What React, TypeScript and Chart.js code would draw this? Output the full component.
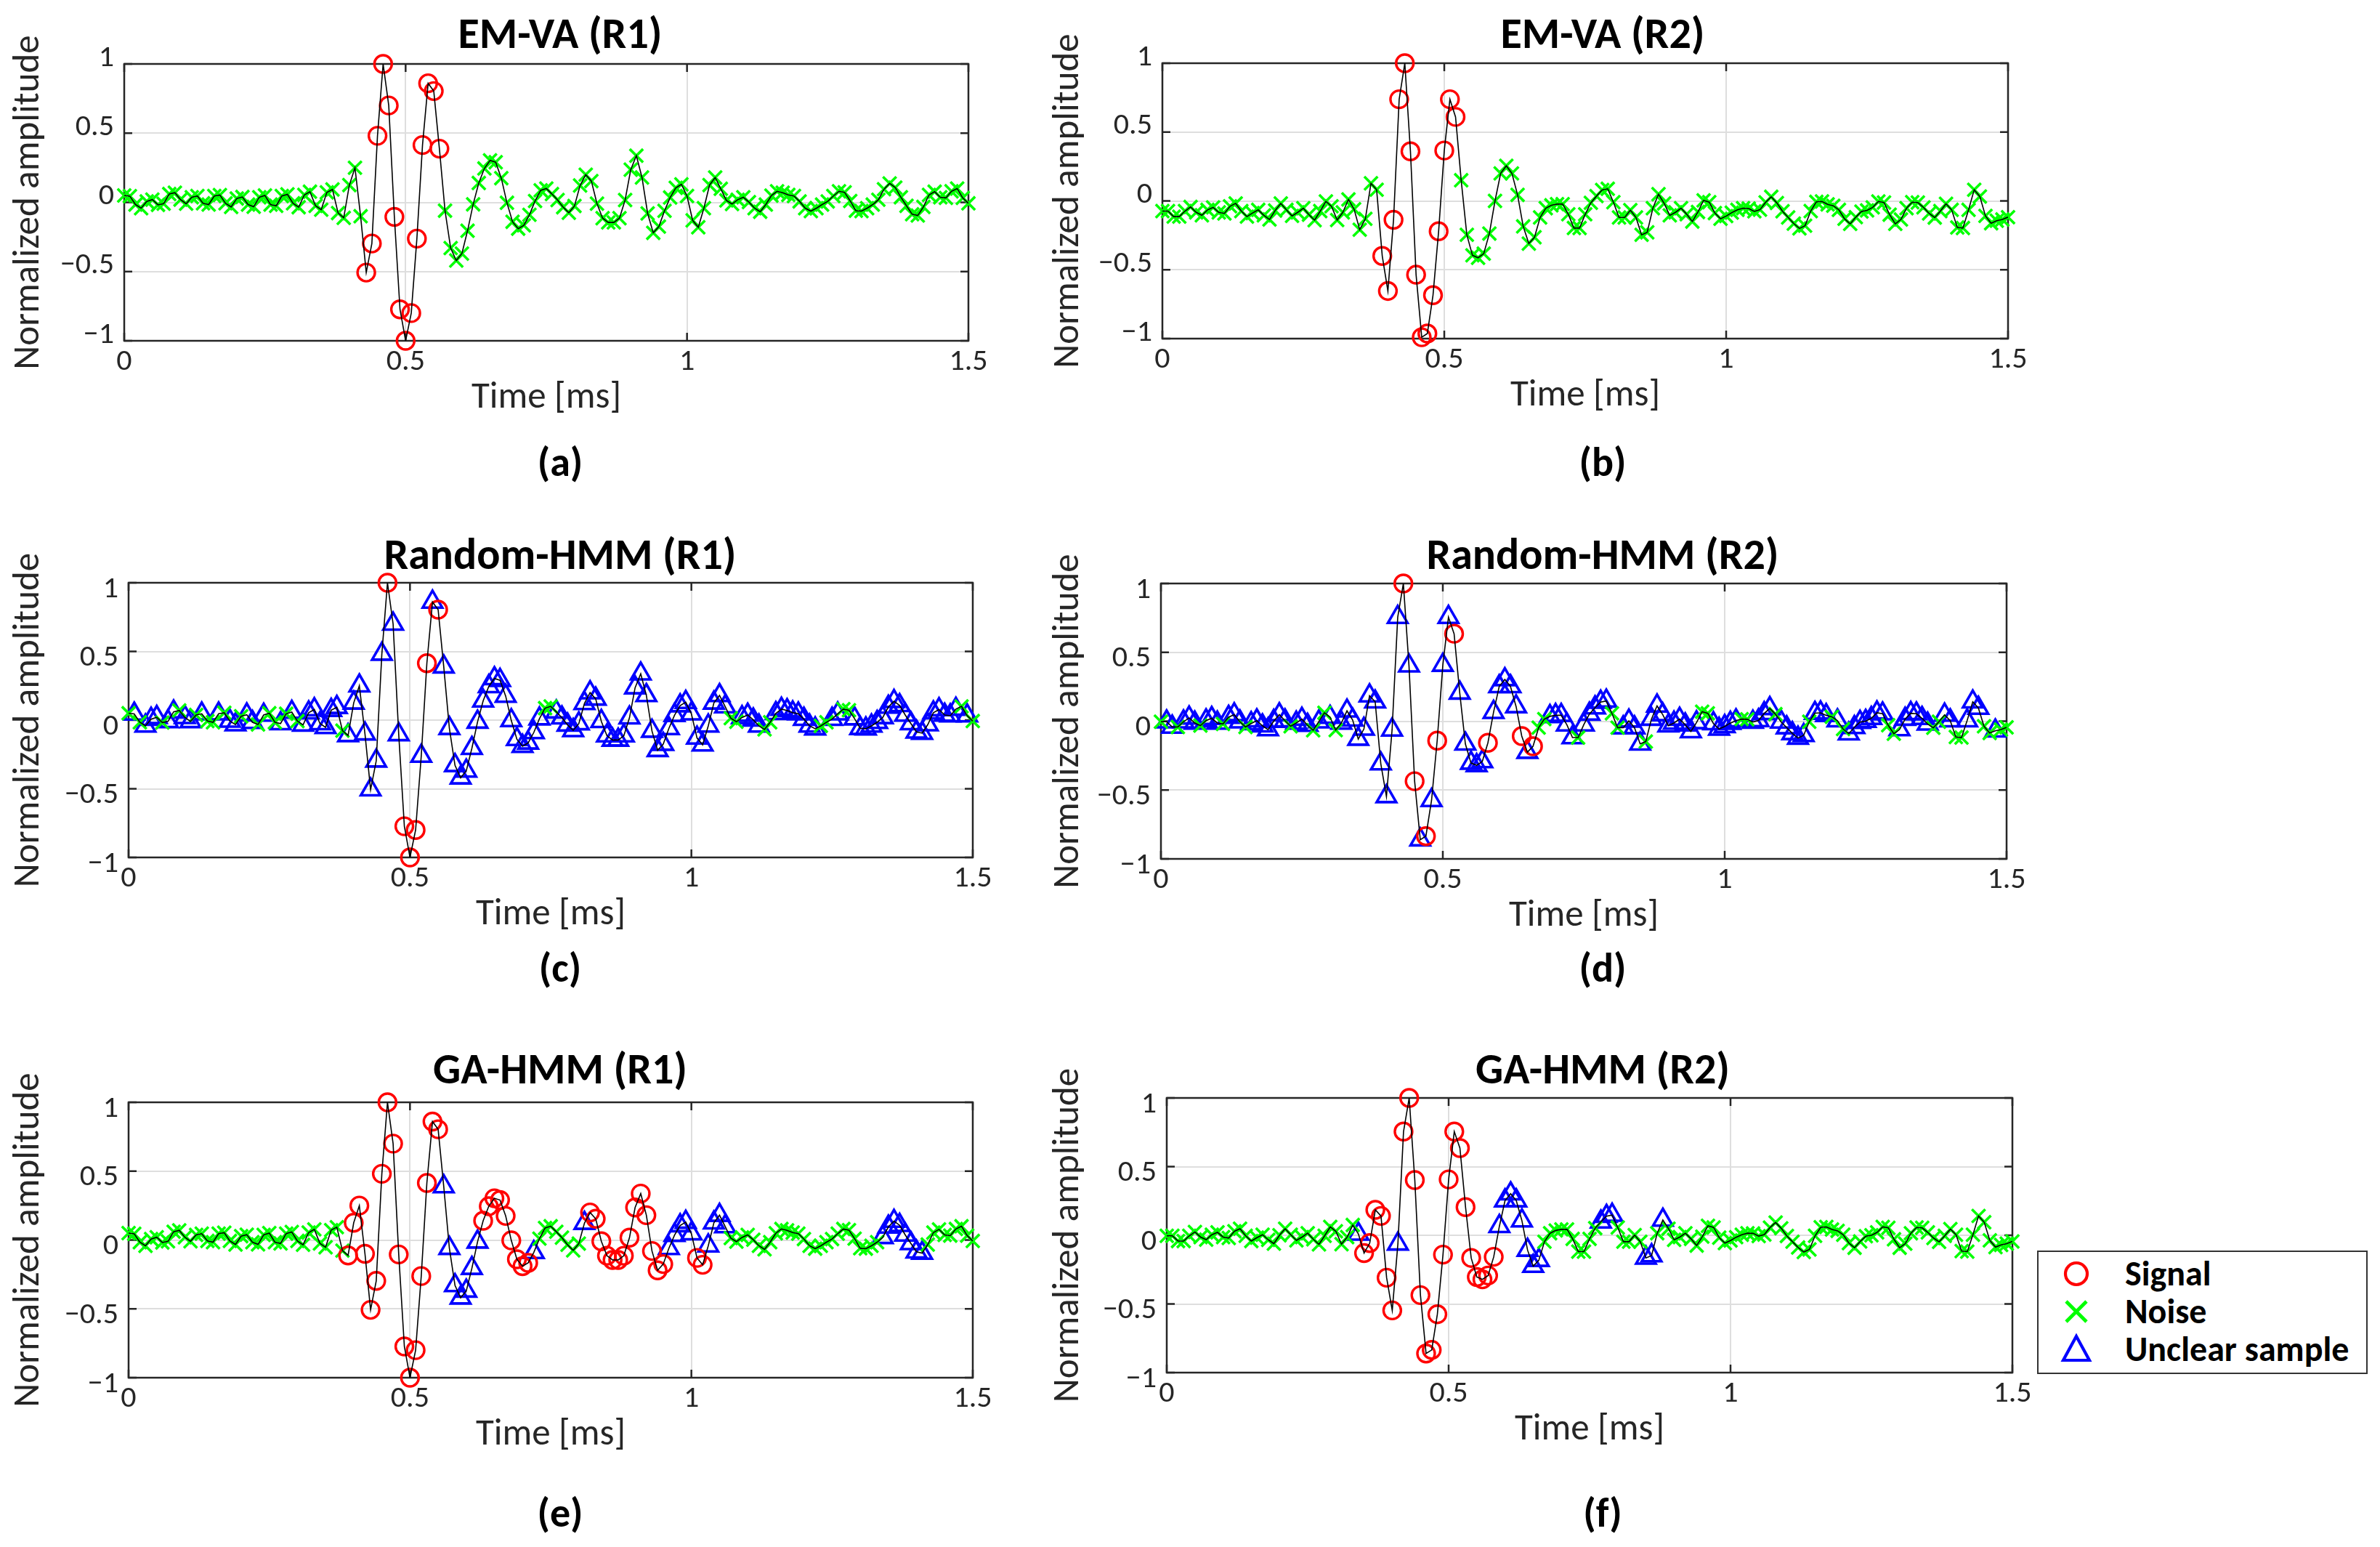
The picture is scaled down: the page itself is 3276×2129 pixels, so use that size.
import { useEffect, useRef } from "react";
import Chart from "chart.js/auto";

// one sample every 0.01 ms, 151 samples from 0 to 1.5 ms
const SAMPLE_MS = 0.01;
const X_TICKS = [0, 0.5, 1, 1.5];
const Y_TICKS = [-1, -0.5, 0, 0.5, 1];

// recording R1 (panels a, c, e)
const R1 = [
  0.05, 0.045, -0.016, -0.042, 0.007, 0.02, -0.018, -0.01, 0.06, 0.07,
  0.02, -0.01, 0.037, 0.046, -0.007, -0.016, 0.046, 0.053, -0.007, -0.033,
  0.028, 0.039, -0.016, -0.032, 0.037, 0.05, -0.016, -0.025, 0.046, 0.058,
  -0.007, -0.035, 0.054, 0.077, -0.025, -0.053, 0.072, 0.093, -0.077, -0.112,
  0.125, 0.25, -0.1, -0.507, -0.297, 0.481, 1.0, 0.7, -0.105, -0.773,
  -1.0, -0.8, -0.262, 0.414, 0.86, 0.804, 0.388, -0.06, -0.33, -0.42,
  -0.37, -0.205, -0.014, 0.14, 0.245, 0.303, 0.29, 0.175, -0.003, -0.14,
  -0.19, -0.166, -0.09, 0.01, 0.087, 0.1, 0.06, 0.017, -0.035, -0.075,
  -0.026, 0.122, 0.2, 0.154, -0.009, -0.114, -0.145, -0.145, -0.114, 0.017,
  0.236, 0.337, 0.18, -0.08, -0.22, -0.175, -0.061, 0.035, 0.105, 0.13,
  0.046, -0.13, -0.18, -0.042, 0.125, 0.18, 0.098, 0.014, -0.012, 0.019,
  0.037, 0.002, -0.042, -0.068, -0.016, 0.049, 0.08, 0.07, 0.054, 0.046,
  0.007, -0.042, -0.063, -0.042, -0.016, 0.007, 0.046, 0.08, 0.072, 0.01,
  -0.06, -0.063, -0.042, -0.016, 0.019, 0.095, 0.137, 0.107, 0.037, -0.025,
  -0.086, -0.095, -0.033, 0.054, 0.077, 0.037, 0.032, 0.08, 0.1, 0.032,
  -0.007,
];

// recording R2 as plotted in (b)
const R2 = [
  -0.074, -0.074, -0.114, -0.114, -0.074, -0.044, -0.083, -0.104, -0.065, -0.047,
  -0.083, -0.091, -0.039, -0.018, -0.074, -0.114, -0.088, -0.065, -0.105, -0.135,
  -0.07, -0.018, -0.065, -0.109, -0.083, -0.053, -0.1, -0.14, -0.074, -0.004,
  -0.039, -0.139, -0.083, 0.011, -0.06, -0.209, -0.13, 0.128, 0.081, -0.4,
  -0.654, -0.137, 0.738, 1.0, 0.36, -0.536, -0.99, -0.963, -0.685, -0.22,
  0.366, 0.738, 0.61, 0.15, -0.246, -0.395, -0.413, -0.383, -0.237, 0.0,
  0.2, 0.255, 0.2, 0.044, -0.185, -0.31, -0.264, -0.12, -0.053, -0.032,
  -0.023, -0.023, -0.097, -0.197, -0.197, -0.097, -0.014, 0.035, 0.079, 0.088,
  -0.009, -0.12, -0.12, -0.067, -0.12, -0.246, -0.228, -0.053, 0.049, -0.018,
  -0.105, -0.083, -0.053, -0.097, -0.15, -0.08, 0.004, -0.009, -0.088, -0.13,
  -0.11, -0.085, -0.065, -0.053, -0.055, -0.076, -0.064, -0.01, 0.03, -0.015,
  -0.075, -0.12, -0.165, -0.2, -0.18, -0.074, -0.007, -0.004, -0.025, -0.035,
  -0.065, -0.13, -0.167, -0.118, -0.077, -0.069, -0.047, -0.004, -0.012, -0.1,
  -0.167, -0.135, -0.053, -0.009, -0.012, -0.047, -0.091, -0.121, -0.074, -0.021,
  -0.065, -0.193, -0.197, -0.065, 0.081, 0.032, -0.109, -0.162, -0.144, -0.135,
  -0.118,
];

// recording R2 without its offset, as plotted in (d) and (f)
const R2_CENTERED = [
  -0.004, -0.004, -0.042, -0.042, -0.004, 0.024, -0.013, -0.032, 0.004, 0.021,
  -0.013, -0.02, 0.029, 0.048, -0.004, -0.042, -0.017, 0.004, -0.033, -0.061,
  0.0, 0.048, 0.004, -0.037, -0.013, 0.015, -0.029, -0.066, -0.004, 0.061,
  0.029, -0.065, -0.013, 0.075, 0.009, -0.13, -0.057, 0.185, 0.141, -0.309,
  -0.547, -0.063, 0.755, 1.0, 0.402, -0.436, -0.861, -0.835, -0.575, -0.141,
  0.407, 0.755, 0.635, 0.205, -0.165, -0.304, -0.321, -0.293, -0.157, 0.065,
  0.252, 0.303, 0.252, 0.106, -0.108, -0.225, -0.182, -0.047, 0.015, 0.035,
  0.043, 0.043, -0.026, -0.119, -0.119, -0.026, 0.052, 0.098, 0.139, 0.147,
  0.057, -0.047, -0.047, 0.002, -0.047, -0.165, -0.148, 0.015, 0.111, 0.048,
  -0.033, -0.013, 0.015, -0.026, -0.075, -0.01, 0.069, 0.057, -0.017, -0.057,
  -0.038, -0.014, 0.004, 0.015, 0.014, -0.006, 0.005, 0.056, 0.093, 0.051,
  -0.005, -0.047, -0.089, -0.122, -0.103, -0.004, 0.058, 0.061, 0.042, 0.032,
  0.004, -0.057, -0.091, -0.045, -0.007, 0.0, 0.021, 0.061, 0.054, -0.029,
  -0.091, -0.061, 0.015, 0.057, 0.054, 0.021, -0.02, -0.048, -0.004, 0.045,
  0.004, -0.115, -0.119, 0.004, 0.141, 0.095, -0.037, -0.086, -0.07, -0.061,
  -0.045,
];

// sample classes: S = signal, N = noise, U = unclear sample
type Label = "S" | "N" | "U";
type Run = [Label, number, number]; // [class, first sample, last sample]

const LABELS_A: Run[] = [["S", 43, 56]];
const LABELS_B: Run[] = [["S", 39, 52]];
const LABELS_C: Run[] = [
  ["N", 0, 0], ["N", 2, 2], ["N", 6, 6], ["N", 9, 9], ["N", 12, 12], ["N", 14, 15],
  ["N", 17, 17], ["N", 20, 20], ["N", 23, 23], ["N", 25, 26], ["N", 28, 28],
  ["N", 30, 30], ["N", 38, 38], ["S", 46, 46], ["S", 49, 51], ["S", 53, 53],
  ["S", 55, 55], ["N", 74, 75], ["N", 107, 108], ["N", 113, 114], ["N", 123, 124],
  ["N", 127, 128], ["N", 148, 148], ["N", 150, 150],
];
const LABELS_D: Run[] = [
  ["N", 0, 0], ["N", 3, 3], ["N", 7, 7], ["N", 11, 11], ["N", 15, 15], ["N", 23, 23],
  ["N", 27, 27], ["N", 29, 29], ["N", 31, 31], ["S", 43, 43], ["S", 45, 45],
  ["S", 47, 47], ["S", 49, 49], ["S", 52, 52], ["S", 58, 58], ["S", 64, 64],
  ["S", 66, 66], ["N", 67, 68], ["N", 74, 74], ["N", 80, 81], ["N", 86, 86],
  ["N", 96, 97], ["N", 103, 104], ["N", 109, 109], ["N", 115, 115], ["N", 119, 119],
  ["N", 121, 121], ["N", 129, 130], ["N", 137, 138], ["N", 141, 142],
  ["N", 146, 147], ["N", 149, 150],
];
const LABELS_E: Run[] = [
  ["S", 39, 55], ["U", 56, 62], ["S", 63, 71], ["U", 72, 72], ["U", 81, 81],
  ["S", 82, 95], ["U", 96, 100], ["S", 101, 102], ["U", 103, 106], ["U", 134, 141],
];
const LABELS_F: Run[] = [
  ["U", 34, 34], ["S", 35, 40], ["U", 41, 41], ["S", 42, 58], ["U", 59, 66],
  ["U", 77, 79], ["U", 85, 86], ["U", 88, 88],
];

type PanelSpec = {
  id: string;
  title: string;
  wave: number[];
  base: Label;
  runs: Run[];
};

const PANELS: PanelSpec[] = [
  { id: "a", title: "EM-VA (R1)", wave: R1, base: "N", runs: LABELS_A },
  { id: "b", title: "EM-VA (R2)", wave: R2, base: "N", runs: LABELS_B },
  { id: "c", title: "Random-HMM (R1)", wave: R1, base: "U", runs: LABELS_C },
  { id: "d", title: "Random-HMM (R2)", wave: R2_CENTERED, base: "U", runs: LABELS_D },
  { id: "e", title: "GA-HMM (R1)", wave: R1, base: "N", runs: LABELS_E },
  { id: "f", title: "GA-HMM (R2)", wave: R2_CENTERED, base: "N", runs: LABELS_F },
];

// page layout (pixels)
const PLOT_BOX: Record<string, { l: number; t: number; w: number; h: number }> = {
  a: { l: 171, t: 88, w: 1162, h: 381 },
  b: { l: 1600, t: 87, w: 1164, h: 379 },
  c: { l: 177, t: 802, w: 1162, h: 378 },
  d: { l: 1598, t: 803, w: 1164, h: 379 },
  e: { l: 177, t: 1517, w: 1162, h: 379 },
  f: { l: 1606, t: 1511, w: 1164, h: 378 },
};
// vertical nudge of the y tick labels relative to their grid lines
const Y_LABEL_SHIFT: Record<string, number> = { a: -8, b: -8, c: 9, d: 9, e: 9, f: 9 };
const CANVAS_LEFT = [6, 1437];
const TEXT_CX = [771, 2206];
const TITLE_CY = [46, 763, 1471];
const LETTER_CY = [637, 1333, 2083];
const PAD_TOP = 80;
const PAD_RIGHT = 50;
const X_AXIS_H = 118;

const FONT = "Carlito, Lato, 'Open Sans', sans-serif";
const AXIS_COLOR = "#262626";
const GRID_COLOR = "#dedede";
const COLORS = { S: "#ff0000", N: "#00ff00", U: "#0000ff" };

Chart.defaults.font.family = FONT;

const fmtTick = (v: number) => {
  const r = Math.round(v * 100) / 100;
  if (r === 0) return "0";
  return (r < 0 ? "\u2212" : "") + String(Math.abs(r));
};

function expandLabels(base: Label, runs: Run[], n: number): Label[] {
  const out: Label[] = new Array(n).fill(base);
  runs.forEach(([lab, a, b]) => {
    for (let i = a; i <= b; i++) out[i] = lab;
  });
  return out;
}

// axes box with MATLAB-style inner tick marks
const axesBox = {
  id: "axesBox",
  beforeDatasetsDraw(chart: any) {
    const { ctx, chartArea, scales } = chart;
    const { left, right, top, bottom } = chartArea;
    const tl = 11;
    ctx.save();
    ctx.strokeStyle = AXIS_COLOR;
    ctx.lineWidth = 2.5;
    ctx.strokeRect(left, top, right - left, bottom - top);
    ctx.beginPath();
    X_TICKS.forEach(v => {
      const px = scales.x.getPixelForValue(v);
      ctx.moveTo(px, bottom);
      ctx.lineTo(px, bottom - tl);
      ctx.moveTo(px, top);
      ctx.lineTo(px, top + tl);
    });
    Y_TICKS.forEach(v => {
      const py = scales.y.getPixelForValue(v);
      ctx.moveTo(left, py);
      ctx.lineTo(left + tl, py);
      ctx.moveTo(right, py);
      ctx.lineTo(right - tl, py);
    });
    ctx.stroke();
    ctx.restore();
  },
};

function Panel({ spec, col }: { spec: PanelSpec; col: number }) {
  const canvasRef = useRef<HTMLCanvasElement | null>(null);
  const box = PLOT_BOX[spec.id];
  const left = CANVAS_LEFT[col];
  const yAxisW = box.l - left;
  const width = yAxisW + box.w + PAD_RIGHT;
  const height = PAD_TOP + box.h + X_AXIS_H;

  useEffect(() => {
    if (!canvasRef.current) return;
    const pts = spec.wave.map((y, i) => ({ x: Math.round(i * SAMPLE_MS * 100) / 100, y }));
    const labels = expandLabels(spec.base, spec.runs, pts.length);
    const pick = (lab: Label) => pts.filter((_, i) => labels[i] === lab);

    const chart = new Chart(canvasRef.current, {
      type: "line",
      data: {
        datasets: [
          {
            label: "waveform",
            data: pts,
            borderColor: "#000000",
            borderWidth: 1.6,
            pointRadius: 0,
            tension: 0,
          },
          {
            label: "Signal",
            data: pick("S"),
            showLine: false,
            pointStyle: "circle",
            pointRadius: 12,
            pointBorderWidth: 3.4,
            pointBorderColor: COLORS.S,
            pointBackgroundColor: "rgba(0,0,0,0)",
            clip: false,
          },
          {
            label: "Noise",
            data: pick("N"),
            showLine: false,
            pointStyle: "crossRot",
            pointRadius: 13,
            pointBorderWidth: 3.6,
            pointBorderColor: COLORS.N,
            pointBackgroundColor: COLORS.N,
            clip: false,
          },
          {
            label: "Unclear sample",
            data: pick("U"),
            showLine: false,
            pointStyle: "triangle",
            pointRadius: 15.5,
            pointBorderWidth: 3.6,
            pointBorderColor: COLORS.U,
            pointBackgroundColor: "rgba(0,0,0,0)",
            clip: false,
          },
        ],
      } as any,
      options: {
        animation: false,
        responsive: false,
        events: [],
        layout: { padding: { top: PAD_TOP, right: PAD_RIGHT, left: 0, bottom: 0 } },
        plugins: {
          legend: { display: false },
          tooltip: { enabled: false },
          title: { display: false },
        },
        scales: {
          x: {
            type: "linear",
            min: 0,
            max: 1.5,
            afterBuildTicks: (s: any) => {
              s.ticks = X_TICKS.map(value => ({ value }));
            },
            afterFit: (s: any) => {
              s.height = X_AXIS_H;
            },
            ticks: {
              callback: (v: any) => fmtTick(Number(v)),
              color: AXIS_COLOR,
              font: { size: 42 },
              padding: 4,
              maxRotation: 0,
            },
            grid: { color: GRID_COLOR, lineWidth: 2, drawTicks: false },
            border: { display: false },
            title: {
              display: true,
              text: "Time [ms]",
              color: AXIS_COLOR,
              font: { size: 51 },
              padding: { top: 0, bottom: 8 },
            },
          },
          y: {
            type: "linear",
            min: -1,
            max: 1,
            afterBuildTicks: (s: any) => {
              s.ticks = Y_TICKS.map(value => ({ value }));
            },
            afterFit: (s: any) => {
              s.width = yAxisW;
            },
            ticks: {
              callback: (v: any) => fmtTick(Number(v)),
              color: AXIS_COLOR,
              font: { size: 42 },
              padding: 14,
              labelOffset: Y_LABEL_SHIFT[spec.id],
            },
            grid: { color: GRID_COLOR, lineWidth: 2, drawTicks: false },
            border: { display: false },
            title: {
              display: true,
              text: "Normalized amplitude",
              color: AXIS_COLOR,
              font: { size: 51 },
              padding: { top: 4, bottom: 0 },
            },
          },
        },
      } as any,
      plugins: [axesBox],
    });
    return () => chart.destroy();
  }, [spec, yAxisW]);

  return (
    <canvas
      ref={canvasRef}
      width={width}
      height={height}
      style={{ position: "absolute", left, top: box.t - PAD_TOP }}
    />
  );
}

function CenteredText({ cx, cy, size, text }: { cx: number; cy: number; size: number; text: string }) {
  return (
    <div
      style={{
        position: "absolute",
        left: cx - 500,
        top: cy - size * 0.6,
        width: 1000,
        height: size * 1.2,
        lineHeight: `${size * 1.2}px`,
        textAlign: "center",
        fontFamily: FONT,
        fontWeight: 700,
        fontSize: size,
        color: "#000",
        whiteSpace: "nowrap",
      }}
    >
      {text}
    </div>
  );
}

const LEGEND_ITEMS: { label: string; cls: Label }[] = [
  { label: "Signal", cls: "S" },
  { label: "Noise", cls: "N" },
  { label: "Unclear sample", cls: "U" },
];

function LegendIcon({ cls }: { cls: Label }) {
  const c = COLORS[cls];
  return (
    <svg width={46} height={46} viewBox="0 0 46 46">
      {cls === "S" && <circle cx={23} cy={23} r={15} fill="none" stroke={c} strokeWidth={4.2} />}
      {cls === "N" && (
        <path d="M9 9 L37 37 M37 9 L9 37" stroke={c} strokeWidth={4.8} fill="none" />
      )}
      {cls === "U" && <path d="M23 5 L41 38 L5 38 Z" stroke={c} strokeWidth={4.2} fill="none" />}
    </svg>
  );
}

function Legend() {
  return (
    <div
      style={{
        position: "absolute",
        left: 2804,
        top: 1721,
        width: 455,
        height: 170,
        boxSizing: "border-box",
        border: "2px solid #333",
        background: "#fff",
      }}
    >
      {LEGEND_ITEMS.map((item, k) => (
        <div key={item.label}>
          <div style={{ position: "absolute", left: 29, top: 30 + k * 52 - 23 }}>
            <LegendIcon cls={item.cls} />
          </div>
          <div
            style={{
              position: "absolute",
              left: 119,
              top: 30 + k * 52 - 26,
              height: 52,
              lineHeight: "52px",
              fontFamily: FONT,
              fontWeight: 700,
              fontSize: 48,
              color: "#000",
              whiteSpace: "nowrap",
            }}
          >
            {item.label}
          </div>
        </div>
      ))}
    </div>
  );
}

export default function App() {
  return (
    <div style={{ position: "absolute", left: 0, top: 0, width: 3276, height: 2129, background: "#fff" }}>
      {PANELS.map((p, k) => {
        const col = k % 2;
        const row = Math.floor(k / 2);
        return (
          <div key={p.id}>
            <Panel spec={p} col={col} />
            <CenteredText cx={TEXT_CX[col]} cy={TITLE_CY[row]} size={60} text={p.title} />
            <CenteredText cx={TEXT_CX[col]} cy={LETTER_CY[row]} size={56} text={`(${p.id})`} />
          </div>
        );
      })}
      <Legend />
    </div>
  );
}
